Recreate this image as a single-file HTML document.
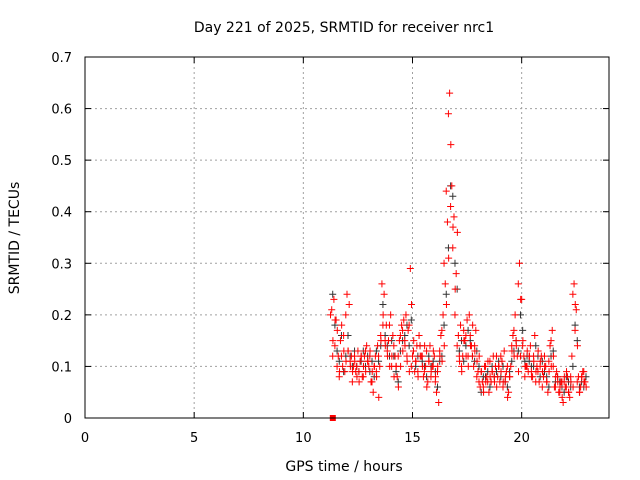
<!DOCTYPE html>
<html><head><meta charset="utf-8"><style>
body{margin:0;background:#fff;}
svg{display:block;font-family:"DejaVu Sans","Liberation Sans",sans-serif;}
</style></head><body>
<svg id="chart" width="640" height="480" viewBox="0 0 640 480">
<text x="344" y="32" font-size="14" text-anchor="middle">Day 221 of 2025, SRMTID for receiver nrc1</text>
<text x="344" y="471" font-size="14" text-anchor="middle">GPS time / hours</text>
<text x="19" y="238" font-size="14" text-anchor="middle" transform="rotate(-90 19 238)">SRMTID / TECUs</text>
<g id="grid"></g><g id="axes"></g><g id="marks"></g>
<rect x="85" y="57" width="524" height="361" fill="none" stroke="#000" stroke-width="1"/>
</svg>
<script>
const xTicks=[0,5,10,15,20];
const yTicks=[0,0.1,0.2,0.3,0.4,0.5,0.6,0.7];
const yTickLabels=["0","0.1","0.2","0.3","0.4","0.5","0.6","0.7"];
const hours=[11.3,11.4,11.5,11.6,11.7,11.8,11.9,
12.0,12.1,12.2,12.3,12.4,12.5,12.6,12.7,12.8,12.9,
13.0,13.1,13.2,13.3,13.4,13.5,13.6,13.7,13.8,13.9,
14.0,14.1,14.2,14.3,14.4,14.5,14.6,14.7,14.8,14.9,
15.0,15.1,15.2,15.3,15.4,15.5,15.6,15.7,15.8,15.9,
16.0,16.1,16.2,16.3,16.4,16.5,16.6,16.7,16.8,16.9,
17.0,17.1,17.2,17.3,17.4,17.5,17.6,17.7,17.8,17.9,
18.0,18.1,18.2,18.3,18.4,18.5,18.6,18.7,18.8,18.9,
19.0,19.1,19.2,19.3,19.4,19.5,19.6,19.7,19.8,19.9,
20.0,20.1,20.2,20.3,20.4,20.5,20.6,20.7,20.8,20.9,
21.0,21.1,21.2,21.3,21.4,21.5,21.6,21.7,21.8,21.9,
22.0,22.1,22.2,22.3,22.4,22.5,22.6,22.7,22.8,22.9];
const black1=[.24,.18,.13,.11,.16,.09,.12,
.16,.12,.10,.13,.10,.09,.11,.13,.10,.12,
.09,.11,.08,.13,.11,.14,.22,.16,.14,.12,
.15,.12,.09,.07,.13,.15,.16,.18,.14,.19,
.13,.10,.12,.14,.11,.10,.08,.12,.10,.11,
.09,.06,.11,.12,.18,.24,.33,.45,.43,.30,
.25,.13,.15,.11,.14,.17,.15,.12,.11,.13,
.10,.05,.08,.08,.09,.06,.10,.08,.09,.11,
.08,.10,.07,.06,.09,.11,.13,.15,.13,.20,
.17,.11,.12,.11,.10,.10,.14,.12,.08,.11,
.09,.08,.06,.12,.13,.07,.08,.07,.06,.05,
.08,.07,.06,.10,.18,.15,.06,.07,.06,.08];
const red1=[.21,.23,.19,.12,.15,.10,.09,
.24,.22,.12,.10,.09,.13,.11,.08,.12,.14,
.10,.07,.05,.12,.14,.10,.26,.24,.18,.15,
.20,.16,.12,.08,.15,.18,.19,.20,.17,.29,
.12,.09,.14,.16,.12,.08,.10,.07,.14,.10,
.12,.05,.03,.16,.20,.26,.38,.63,.45,.39,
.28,.16,.18,.12,.15,.19,.20,.14,.10,.17,
.09,.06,.07,.10,.08,.05,.07,.12,.10,.08,
.07,.11,.13,.09,.05,.10,.16,.20,.12,.30,
.23,.12,.10,.09,.14,.08,.16,.10,.07,.12,
.08,.10,.05,.14,.17,.06,.09,.05,.07,.03,
.06,.08,.04,.12,.26,.21,.08,.06,.09,.07];
const red2=[.15,.19,.17,.09,.18,.13,.11,
.13,.10,.09,.11,.08,.07,.12,.10,.09,.11,
.13,.09,.10,.08,.04,.15,.20,.14,.12,.10,
.12,.08,.10,.06,.10,.13,.14,.11,.09,.22,
.15,.11,.08,.12,.10,.14,.06,.11,.09,.13,
.08,.10,.12,.11,.14,.22,.31,.53,.37,.25,
.36,.11,.09,.15,.12,.10,.14,.18,.13,.11,
.12,.09,.05,.07,.11,.08,.09,.07,.06,.10,
.09,.07,.08,.04,.08,.13,.12,.14,.09,.23,
.15,.10,.13,.12,.08,.11,.09,.13,.11,.09,
.10,.07,.09,.10,.12,.08,.07,.06,.04,.08,
.09,.05,.07,.06,.22,.14,.05,.08,.07,.06];
const red3=[.20,.12,.14,.10,.08,.12,.16,
.20,.13,.11,.07,.12,.10,.09,.12,.08,.13,
.11,.12,.07,.10,.09,.12,.16,.18,.15,.13,
.18,.10,.14,.10,.12,.16,.17,.15,.12,.18,
.10,.13,.11,.09,.14,.12,.09,.13,.11,.08,
.10,.07,.09,.13,.17,.30,.44,.59,.41,.33,
.20,.14,.12,.10,.17,.16,.12,.16,.12,.14,
.08,.07,.09,.06,.10,.07,.11,.09,.08,.12,
.10,.12,.06,.07,.10,.08,.14,.17,.15,.26,
.12,.14,.08,.10,.12,.09,.12,.07,.09,.10,
.06,.12,.07,.11,.15,.10,.06,.08,.05,.07,
.07,.06,.05,.08,.24,.17,.07,.05,.08,.09];
const zeroMarkHour=[11.35];
const zeroMarkVal=[0];

const X0=85,X1=609,Y0=418,Y1=57,XMAX=24,YMAX=0.7;
const xs=v=>X0+(X1-X0)*v/XMAX;
const ys=v=>Y0-(Y0-Y1)*v/YMAX;
const NS="http://www.w3.org/2000/svg";
const grid=document.getElementById('grid'),axes=document.getElementById('axes'),marks=document.getElementById('marks');
function mk(tag,attrs,parent){const e=document.createElementNS(NS,tag);for(const k in attrs)e.setAttribute(k,attrs[k]);parent.appendChild(e);return e;}
xTicks.forEach((t,i)=>{
  const x=xs(t);
  if(t>0){const g=mk('line',{x1:x,x2:x,y1:Y1,y2:Y0,stroke:'#a0a0a0','stroke-dasharray':'2,3'},grid);
  
  }
  const a=mk('line',{x1:x,x2:x,y1:Y0,y2:Y0-6,stroke:'#000'},axes);
  
  
  const b=mk('line',{x1:x,x2:x,y1:Y1,y2:Y1+6,stroke:'#000'},axes);
  
  
  const l=mk('text',{x:x,y:442,'font-size':13,'text-anchor':'middle'},axes);
  l.textContent=String(t);
  
  
});
yTicks.forEach((t,i)=>{
  const y=ys(t);
  if(t>0&&t<YMAX){const g=mk('line',{x1:X0,x2:X1,y1:y,y2:y,stroke:'#a0a0a0','stroke-dasharray':'2,3'},grid);
  
  }
  const a=mk('line',{x1:X0,x2:X0+6,y1:y,y2:y,stroke:'#000'},axes);
  
  
  const b=mk('line',{x1:X1,x2:X1-6,y1:y,y2:y,stroke:'#000'},axes);
  
  
  const l=mk('text',{x:X0-13,y:y+5,'font-size':13,'text-anchor':'end'},axes);
  l.textContent=yTickLabels[i];
  
  
});
function plus(h,v,color,name,dx){
  const x=xs(h)+dx,y=ys(v);
  const p=mk('path',{d:`M${x-3.5},${y}h7M${x},${y-3.5}v7`,stroke:color,'stroke-width':1,fill:'none'},marks);
  
  
}
hours.forEach((h,i)=>plus(h,black1[i],'#333','black-point',1));
hours.forEach((h,i)=>plus(h,red1[i],'#ff0000','red-point',0));
hours.forEach((h,i)=>plus(h,red2[i],'#ff0000','red-point',1.2));
hours.forEach((h,i)=>plus(h,red3[i],'#ff0000','red-point',-1.2));
zeroMarkHour.forEach((h,i)=>{
  const r=mk('rect',{x:xs(h)-3,y:ys(zeroMarkVal[i])-3,width:6,height:6,fill:'#ff0000'},marks);
  
  
});
</script>
</body></html>
